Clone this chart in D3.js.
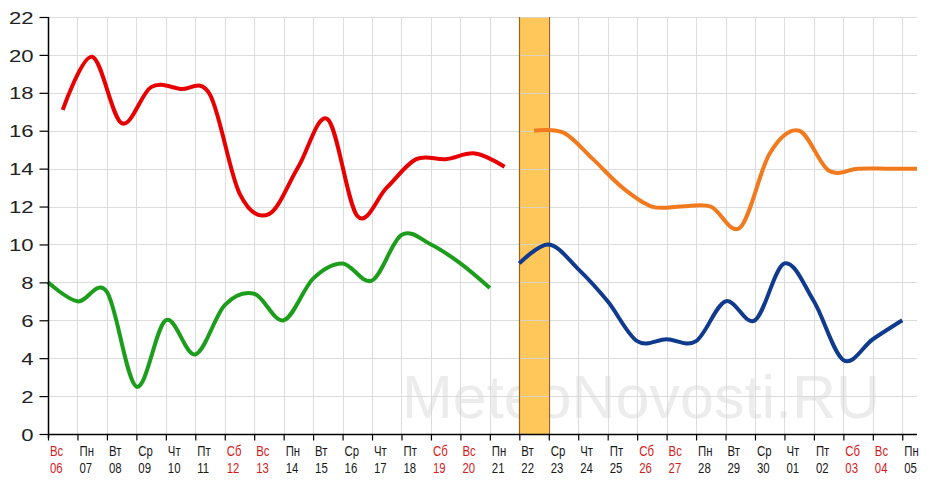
<!DOCTYPE html>
<html><head><meta charset="utf-8">
<script src="https://cdn.jsdelivr.net/npm/d3@7"></script>
<style>html,body{margin:0;padding:0;background:#fff;}svg{display:block;}</style>
</head><body>
<svg id="chart" width="932" height="484"></svg>
<script>
const dates = ["06","07","08","09","10","11","12","13","14","15","16","17","18","19","20","21","22","23","24","25","26","27","28","29","30","01","02","03","04","05"];
const weekdays = ["Вс","Пн","Вт","Ср","Чт","Пт","Сб","Вс","Пн","Вт","Ср","Чт","Пт","Сб","Вс","Пн","Вт","Ср","Чт","Пт","Сб","Вс","Пн","Вт","Ср","Чт","Пт","Сб","Вс","Пн"];
const dayTempPast = [17.1, 19.9, 16.4, 18.3, 18.2, 17.9, 12.7, 11.6, 14.1, 16.6, 11.5, 13.0, 14.5, 14.5, 14.8, 14.1];
const nightTempPast = [8.0, 7.0, 7.5, 2.5, 6.0, 4.2, 6.8, 7.4, 6.0, 8.2, 9.0, 8.1, 10.5, 10.0, 9.0, 7.7];
const dayTempForecast = [16.0, 15.9, 14.5, 13.0, 12.0, 12.0, 12.0, 10.9, 14.8, 16.0, 13.9, 14.0, 14.0, 14.0];
const nightTempForecast = [9.0, 10.0, 8.7, 7.0, 4.9, 5.0, 4.9, 7.0, 6.0, 9.0, 7.0, 3.9, 5.0, 6.0];
const yTicks = [0,2,4,6,8,10,12,14,16,18,20,22];
const todayIndex = 16;

const svg = d3.select("#chart");
const pL = 48, pR = 917, pT = 17, pB = 434;
const x = d3.scaleLinear().domain([0, 29.5]).range([pL, pR]);
const y = d3.scaleLinear().domain([0, 22]).range([pB, pT]);
const font = "'Liberation Sans', Arial, sans-serif";
const isWeekend = i => weekdays[i] === "Сб" || weekdays[i] === "Вс";

// watermark
svg.append("text").attr("x", 402).attr("y", 418)
  .attr("font-family", font).attr("font-size", 61)
  .attr("fill", "#ececec").text("MeteoNovosti.RU");

// today band
svg.append("rect")
  .attr("x", x(todayIndex)).attr("y", pT)
  .attr("width", x(todayIndex + 1) - x(todayIndex)).attr("height", pB - pT)
  .attr("fill", "#ffc65a");

// grid
const grid = svg.append("g").attr("stroke", "#d6d6d6").attr("stroke-width", 1).attr("opacity", 0.85);
yTicks.filter(v => v > 0).forEach(v => {
  grid.append("line").attr("x1", pL).attr("x2", pR)
    .attr("y1", Math.round(y(v)) + 0.5).attr("y2", Math.round(y(v)) + 0.5);
});
d3.range(1, 30).forEach(i => {
  grid.append("line").attr("y1", pT).attr("y2", pB)
    .attr("x1", Math.round(x(i)) + 0.5).attr("x2", Math.round(x(i)) + 0.5);
});
// band edges
[todayIndex, todayIndex + 1].forEach(i => {
  svg.append("line").attr("y1", pT).attr("y2", pB)
    .attr("x1", Math.round(x(i)) + 0.5).attr("x2", Math.round(x(i)) + 0.5)
    .attr("stroke", "#9a6418").attr("stroke-width", 1.2);
});

// lines
const line = d3.line().curve(d3.curveCardinal.tension(0)).x(d => x(d[0])).y(d => y(d[1]));
function drawSeries(values, offset, startIdx, color) {
  const pts = values.map((v, k) => [startIdx + k + offset, v]);
  svg.append("path").datum(pts).attr("d", line)
    .attr("fill", "none").attr("stroke", color).attr("stroke-width", 4)
    .attr("stroke-linejoin", "round");
}
drawSeries(nightTempPast, 0, 0, "#1c9e1c");
drawSeries(dayTempPast, 0.5, 0, "#e80000");
drawSeries(nightTempForecast, 0, todayIndex, "#0f3a8e");
drawSeries(dayTempForecast, 0.5, todayIndex, "#f27a1e");

// y axis
const ys = 1.3;
const yAxis = svg.append("g").attr("transform", `translate(${pL + 0.5},0)`)
  .call(d3.axisLeft(y).tickValues(yTicks).tickSize(9).tickPadding(6).tickFormat(d3.format("d")));
yAxis.select(".domain").attr("stroke", "#000").attr("stroke-width", 1.5).attr("d", `M0,${pT}V${pB + 4}`);
yAxis.selectAll(".tick line").attr("stroke", "#000").attr("stroke-width", 1.2);
yAxis.selectAll(".tick text")
  .attr("font-family", font).attr("font-size", 17).attr("fill", "#222")
  .attr("x", -15 / ys).attr("dy", "0.36em")
  .attr("transform", `scale(${ys},1)`);

// x axis
const xsc = 0.76;
const xAxis = svg.append("g").attr("transform", `translate(0,${pB + 0.5})`)
  .call(d3.axisBottom(x).tickValues(d3.range(0, 30)).tickSize(6).tickFormat(""));
xAxis.select(".domain").attr("stroke", "#000").attr("stroke-width", 1.5).attr("d", `M${pL},0H${pR}`);
xAxis.selectAll(".tick line").attr("stroke", "#000").attr("stroke-width", 1.2);
xAxis.selectAll(".tick").each(function(i) {
  const g = d3.select(this);
  const c = isWeekend(i) ? "#d41c1c" : "#1a1a1a";
  [[weekdays[i], 21.5], [dates[i], 38.5]].forEach(([s, yy]) => {
    g.append("text")
      .attr("font-family", font).attr("font-size", 15)
      .attr("fill", c).attr("text-anchor", "start")
      .attr("transform", `scale(${xsc},1)`)
      .attr("x", 1.5 / xsc).attr("y", yy).text(s);
  });
});
</script>
</body></html>
